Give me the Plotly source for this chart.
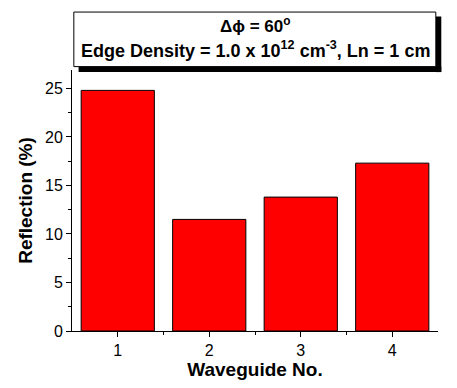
import plotly.graph_objects as go

waveguide = [1, 2, 3, 4]
reflection = [24.8, 11.5, 13.8, 17.3]
x_ticks = [1, 2, 3, 4]
y_ticks = [0, 5, 10, 15, 20, 25]

FONT = "Liberation Sans, Arial, sans-serif"

fig = go.Figure()
fig.add_trace(go.Bar(
    x=waveguide, y=reflection, width=0.8,
    marker=dict(color="#FF0000", line=dict(color="#000000", width=1)),
))

fig.update_layout(
    width=457, height=388,
    margin=dict(l=72, r=19, t=70, b=57),
    plot_bgcolor="white", paper_bgcolor="white",
    showlegend=False,
    font=dict(family=FONT, size=16, color="black"),
    xaxis=dict(
        range=[0.5, 4.5], tickvals=x_ticks, ticks="outside", ticklen=5, tickwidth=1,
        tickcolor="black", showline=True, linecolor="black", linewidth=1,
        showgrid=False, zeroline=False,
        minor=dict(tickvals=[1.5, 2.5, 3.5], ticks="outside", ticklen=3, tickcolor="black"),
        title=dict(text="<b>Waveguide No.</b>", font=dict(size=19), standoff=2),
        tickfont=dict(size=16),
    ),
    yaxis=dict(
        range=[0, 26.9], tickvals=y_ticks, ticks="outside", ticklen=5, tickwidth=1,
        tickcolor="black", showline=True, linecolor="black", linewidth=1,
        showgrid=False, zeroline=False,
        minor=dict(dtick=2.5, ticks="outside", ticklen=3, tickcolor="black"),
        title=dict(text="<b>Reflection (%)</b>", font=dict(size=19), standoff=7),
        tickfont=dict(size=16),
    ),
    shapes=[
        # shadow strips (right and bottom)
        dict(type="rect", xref="paper", yref="paper", x0=0.994, x1=1.009, y0=0.992, y1=1.205,
             fillcolor="black", line=dict(width=0), layer="above"),
        dict(type="rect", xref="paper", yref="paper", x0=0.018, x1=1.009, y0=0.992, y1=1.013,
             fillcolor="black", line=dict(width=0), layer="above"),
        # white box
        dict(type="rect", xref="paper", yref="paper", x0=0.005, x1=0.994, y0=1.013, y1=1.222,
             fillcolor="white", line=dict(color="black", width=1), layer="above"),
    ],
    annotations=[
        dict(text="<b>Δϕ = 60<sup>o</sup></b>", xref="paper", yref="paper", x=0.5, y=1.174,
             showarrow=False, font=dict(size=17), xanchor="center", yanchor="middle"),
        dict(text="<b>Edge Density = 1.0 x 10<sup>12</sup> cm<sup>-3</sup>, Ln = 1 cm</b>",
             xref="paper", yref="paper", x=0.5, y=1.077,
             showarrow=False, font=dict(size=18), xanchor="center", yanchor="middle"),
    ],
)

fig.write_html("out.html")
